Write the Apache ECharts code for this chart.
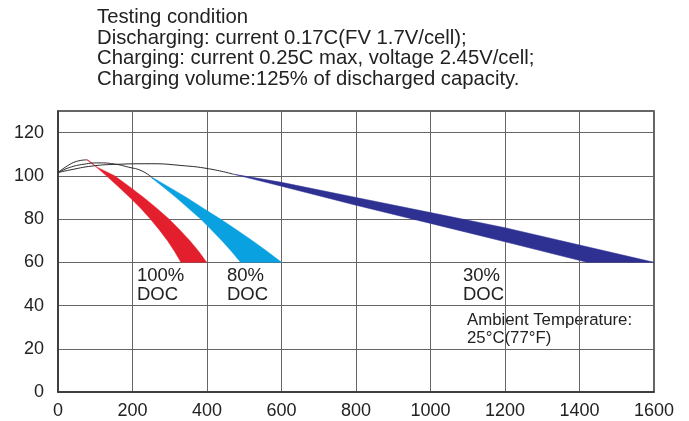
<!DOCTYPE html>
<html>
<head>
<meta charset="utf-8">
<script src="https://cdn.jsdelivr.net/npm/echarts@6/dist/echarts.min.js"></script>
<style>
html,body{margin:0;padding:0;background:#fff;}
#chart{width:689px;height:421px;}
</style>
</head>
<body>
<div id="chart"></div>
<script>
// ---- data ----
const titleLines = [
  'Testing condition',
  'Discharging: current 0.17C(FV 1.7V/cell);',
  'Charging: current 0.25C max, voltage 2.45V/cell;',
  'Charging volume:125% of discharged capacity.'
];
const bandLabels = ['100%\nDOC', '80%\nDOC', '30%\nDOC'];
const ambientLabel = 'Ambient Temperature:\n25°C(77°F)';

// thin black lead-in curves (cycles, capacity %)
const curve100 = [[0,101.5],[25,104.6],[50,106.7],[77,107.4]];
const curve80  = [[0,101.5],[30,103.8],[70,105.4],[110,106],[150,105.5],[190,104],[225,102.3],[254,99]];
const curve30  = [[0,101.5],[40,103],[90,104.5],[150,105.3],[250,105.6],[330,104.8],[404,103.3],[470,100.8]];

// bands: two edges each
const band100Left  = [[77,107.4],[100,104.5],[130,100],[162,95],[193,90],[222,85],[248,80],[272,75],[294,70],[313,65],[330,60]];
const band100Right = [[80,107.4],[105,104],[152,100],[192,95],[230,90],[265,85],[298,80],[327,75],[354,70],[378,65],[399,60]];
const band80Left   = [[252,99],[285,94.5],[317,90],[350,85],[383,80],[412,75],[440,70],[466,65],[490,60]];
const band80Right  = [[256,99],[296,95],[345,90],[390,85],[436,80],[480,75],[522,70],[562,65],[600,60]];
const band30Upper  = [[470,100.8],[600,97],[800,90],[1000,83],[1200,76],[1400,68],[1600,60]];
const band30Lower  = [[470,100.8],[600,95.2],[800,86.4],[1000,78],[1200,69.5],[1420,60],[1600,60]];

const bandColors = ['#e31e2d', '#0aa1e0', '#2e3192'];
const FONT = '"Liberation Sans", Arial, sans-serif';

function bandSeries(edgeA, edgeB, color) {
  return {
    type: 'custom',
    data: [0],
    silent: true,
    z: 3,
    renderItem: function (params, api) {
      const pts = edgeA.map(p => api.coord(p))
        .concat(edgeB.slice().reverse().map(p => api.coord(p)));
      return {
        type: 'polygon',
        shape: { points: pts },
        style: { fill: color, stroke: color, lineWidth: 0.5 }
      };
    }
  };
}
function curveSeries(data) {
  return {
    type: 'line', data: data, smooth: 0.5, showSymbol: false, silent: true, z: 4,
    lineStyle: { color: '#2a2a2a', width: 1 }
  };
}

const chart = echarts.init(document.getElementById('chart'), null, { renderer: 'canvas' });
chart.setOption({
  animation: false,
  backgroundColor: '#fff',
  grid: {
    left: 58, right: 35, top: 111, bottom: 29,
    show: true, borderColor: '#333', borderWidth: 1.5, backgroundColor: 'transparent'
  },
  xAxis: {
    type: 'value', min: 0, max: 1600, interval: 200,
    axisLine: { show: true, lineStyle: { color: '#333', width: 1.5 } },
    axisTick: { show: false },
    axisLabel: { fontFamily: FONT, fontSize: 18, color: '#222', margin: 10, formatter: v => String(v) },
    splitLine: { show: true, lineStyle: { color: '#666', width: 1 } }
  },
  yAxis: {
    type: 'value', min: 0, max: 130, interval: 20,
    axisLine: { show: true, lineStyle: { color: '#333', width: 1.5 } },
    axisTick: { show: false },
    axisLabel: { fontFamily: FONT, fontSize: 18, color: '#222', margin: 14, showMaxLabel: false },
    splitLine: { show: true, lineStyle: { color: '#666', width: 1 } }
  },
  graphic: [
    { type: 'text', left: 97, top: 7, style: { text: titleLines.join('\n'), font: '20.3px ' + FONT, fill: '#222', lineHeight: 20.7 } },
    { type: 'text', left: 137, top: 266, style: { text: bandLabels[0], font: '18.5px ' + FONT, fill: '#222', lineHeight: 19.5 } },
    { type: 'text', left: 227, top: 266, style: { text: bandLabels[1], font: '18.5px ' + FONT, fill: '#222', lineHeight: 19.5 } },
    { type: 'text', left: 463, top: 266, style: { text: bandLabels[2], font: '18.5px ' + FONT, fill: '#222', lineHeight: 19.5 } },
    { type: 'text', left: 467, top: 311, style: { text: ambientLabel, font: '16.8px ' + FONT, fill: '#222', lineHeight: 18 } }
  ],
  series: [
    bandSeries(band100Left, band100Right, bandColors[0]),
    bandSeries(band80Left, band80Right, bandColors[1]),
    bandSeries(band30Upper, band30Lower, bandColors[2]),
    curveSeries(curve100),
    curveSeries(curve80),
    curveSeries(curve30)
  ]
});
</script>
</body>
</html>
